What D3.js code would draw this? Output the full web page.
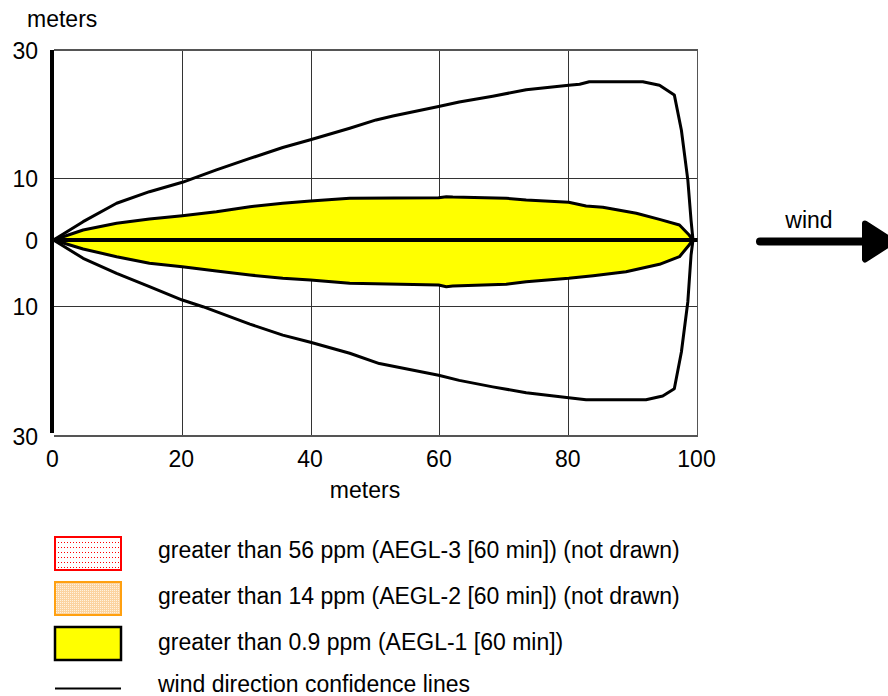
<!DOCTYPE html>
<html><head><meta charset="utf-8">
<script src="https://cdn.jsdelivr.net/npm/d3@7"></script>
<style>
html,body{margin:0;padding:0;background:#fff;}
svg{display:block;}
text{font-family:"Liberation Sans",Arial,sans-serif;fill:#000;}
</style></head>
<body>
<svg id="chart" width="888" height="696"></svg>
<script>
// ---- data ----
const xTicks = [0, 20, 40, 60, 80, 100];
const yTicks = [30, 10, 0, -10, -30];
const gridX = [20, 40, 60, 80];
const gridY = [10, -10];

// wind direction confidence lines [downwind m, crosswind m]
const confUpper = [[0,0],[4.6,2.97],[9.8,5.95],[14.9,7.83],[20,9.35],[25.3,11.3],[30.5,13.1],[35.6,14.8],[39.9,16.0],[46.0,17.8],[50.1,19.1],[52.7,19.7],[59.8,21.2],[63.0,21.9],[68.2,22.8],[73.4,23.8],[80.0,24.5],[81.7,24.65],[83.2,25.05],[91.5,25.05],[94.1,24.5],[96.4,23.0],[97.5,17.5],[98.5,9.7],[99.0,3.2],[99.3,0]];
const confLower = [[0,0],[4.6,-2.74],[9.8,-4.99],[14.9,-7.0],[20,-9.0],[23.2,-10.0],[30.5,-12.7],[35.6,-14.4],[39.9,-15.5],[46.0,-17.2],[50.6,-18.8],[59.8,-20.6],[63.0,-21.4],[68.2,-22.4],[73.4,-23.3],[80.0,-24.1],[82.7,-24.4],[92.0,-24.4],[94.6,-23.8],[96.4,-22.7],[97.5,-17.0],[98.5,-9.25],[99.0,-2.25],[99.3,0]];

// AEGL-1 threat zone (> 0.9 ppm)
const plumeUpper = [[0,0],[4.6,1.62],[9.8,2.71],[14.9,3.40],[20,3.94],[25.3,4.59],[30.5,5.40],[35.6,5.95],[39.9,6.32],[46.0,6.76],[59.8,6.86],[61.0,7.02],[62.0,6.97],[70.3,6.76],[73.4,6.48],[80.0,6.11],[82.7,5.51],[85.3,5.30],[90.5,4.33],[94.1,3.35],[97.2,2.43],[98.7,0.81],[99.3,0]];
const plumeLower = [[0,0],[4.6,-1.35],[9.8,-2.5],[14.9,-3.49],[20,-4.0],[25.3,-4.65],[30.5,-5.25],[35.6,-5.74],[39.9,-6.0],[46.0,-6.5],[59.8,-6.75],[61.0,-7.0],[62.0,-6.9],[70.3,-6.64],[73.4,-6.25],[80.0,-5.74],[83.8,-5.35],[88.9,-4.75],[94.1,-3.64],[97.2,-2.5],[98.7,-0.75],[99.3,0]];

const legendLabels = [
  "greater than 56 ppm (AEGL-3 [60 min]) (not drawn)",
  "greater than 14 ppm (AEGL-2 [60 min]) (not drawn)",
  "greater than 0.9 ppm (AEGL-1 [60 min])",
  "wind direction confidence lines"
];

// ---- drawing ----
const svg = d3.select("#chart");
const FS = 23;

const x = d3.scaleLinear().domain([0, 100]).range([53.5, 697.5]);
const y = d3.scaleLinear().domain([-30, -10, 0, 10, 30]).range([436, 306.7, 240, 178.3, 50]);

const defs = svg.append("defs");
const p1 = defs.append("pattern").attr("id","dotsRed").attr("patternUnits","userSpaceOnUse")
  .attr("width",3).attr("height",5);
p1.append("rect").attr("width",3).attr("height",5).attr("fill","#fff");
p1.append("rect").attr("x",1).attr("y",2).attr("width",1).attr("height",1).attr("fill","#f00");
const p2 = defs.append("pattern").attr("id","dotsOrange").attr("patternUnits","userSpaceOnUse")
  .attr("width",2).attr("height",2);
p2.append("rect").attr("width",2).attr("height",2).attr("fill","#fbd3a0");
p2.append("rect").attr("x",0).attr("y",0).attr("width",1).attr("height",1).attr("fill","#fff3e0");

// grid
const g = svg.append("g");
g.selectAll("line.gx").data(gridX).join("line")
  .attr("x1", d => x(d)).attr("x2", d => x(d))
  .attr("y1", y(30)).attr("y2", y(-30))
  .attr("stroke", "#333").attr("stroke-width", 1).attr("shape-rendering","crispEdges");
g.selectAll("line.gy").data(gridY).join("line")
  .attr("x1", x(0)).attr("x2", x(100))
  .attr("y1", d => y(d)).attr("y2", d => y(d))
  .attr("stroke", "#333").attr("stroke-width", 1).attr("shape-rendering","crispEdges");
// frame (top, right, bottom)
g.append("path")
  .attr("d", `M${x(0)},${y(30)}H${x(100)}V${y(-30)}H${x(0)}`)
  .attr("fill","none").attr("stroke","#555").attr("stroke-width",1.2).attr("shape-rendering","crispEdges");

// plume (AEGL-1)
const line = d3.line().x(d => x(d[0])).y(d => y(d[1]));
const plumePts = plumeUpper.concat(plumeLower.slice().reverse());
g.append("path").datum(plumePts)
  .attr("d", d => line(d) + "Z")
  .attr("fill", "#ffff00").attr("stroke", "#000").attr("stroke-width", 3).attr("stroke-linejoin","round");

// center line
g.append("line")
  .attr("x1", x(0)).attr("x2", x(100)).attr("y1", y(0)).attr("y2", y(0))
  .attr("stroke","#000").attr("stroke-width",4);

// confidence lines
const confPts = confUpper.concat(confLower.slice(0, -1).reverse());
g.append("path").datum(confPts)
  .attr("d", line)
  .attr("fill","none").attr("stroke","#000").attr("stroke-width",3).attr("stroke-linejoin","round");

// left thick axis
g.append("line")
  .attr("x1", x(0) - 1.5).attr("x2", x(0) - 1.5).attr("y1", y(30)).attr("y2", y(-30) - 3)
  .attr("stroke","#000").attr("stroke-width",4);

// axes
const yAxis = d3.axisLeft(y).tickValues(yTicks).tickSize(0).tickPadding(0)
  .tickFormat(d => Math.abs(d));
const ya = svg.append("g").attr("transform", `translate(38,0)`).call(yAxis);
ya.select(".domain").remove();
ya.selectAll("text").attr("font-size", FS).attr("font-family",'"Liberation Sans",Arial,sans-serif').attr("dy","0.36em").attr("fill","#000");

const xAxis = d3.axisBottom(x).tickValues(xTicks).tickSize(0).tickPadding(0);
const xa = svg.append("g").attr("transform", `translate(-1.5,${y(-30)})`).call(xAxis);
xa.select(".domain").remove();
xa.selectAll("text").attr("font-size", FS).attr("font-family",'"Liberation Sans",Arial,sans-serif').attr("y", 15).attr("dy","0.71em").attr("fill","#000");

svg.append("text").attr("x", 27).attr("y", 27).attr("font-size", FS).text("meters");
svg.append("text").attr("x", 365).attr("y", 498).attr("text-anchor","middle").attr("font-size", FS).text("meters");

// wind arrow
svg.append("text").attr("x", 809).attr("y", 228).attr("text-anchor","middle").attr("font-size", FS).text("wind");
svg.append("line").attr("x1", 760).attr("x2", 870).attr("y1", y(0) + 1.5).attr("y2", y(0) + 1.5)
  .attr("stroke","#000").attr("stroke-width",8).attr("stroke-linecap","round");
svg.append("path").attr("d", `M865,${y(0)-16.5}L893,${y(0)+1.5}L865,${y(0)+19.5}Z`)
  .attr("fill","#000").attr("stroke","#000").attr("stroke-width",6).attr("stroke-linejoin","round");

// legend
const leg = svg.append("g");
const boxes = [
  {fill:"url(#dotsRed)", stroke:"#ff0000", sw:2},
  {fill:"url(#dotsOrange)", stroke:"#ffa010", sw:2},
  {fill:"#ffff00", stroke:"#000", sw:2.5}
];
const rowY = [537, 582, 627];
leg.selectAll("rect").data(boxes).join("rect")
  .attr("x", 55).attr("y", (d,i) => rowY[i]).attr("width", 66).attr("height", 33)
  .attr("fill", d => d.fill).attr("stroke", d => d.stroke).attr("stroke-width", d => d.sw);
leg.append("line").attr("x1", 55).attr("x2", 121).attr("y1", 688.5).attr("y2", 688.5)
  .attr("stroke","#000").attr("stroke-width",2);
leg.selectAll("text").data(legendLabels).join("text")
  .attr("x", 158).attr("y", (d,i) => i < 3 ? 558 + i*46 : 692)
  .attr("font-size", FS).text(d => d);
</script>
</body></html>
